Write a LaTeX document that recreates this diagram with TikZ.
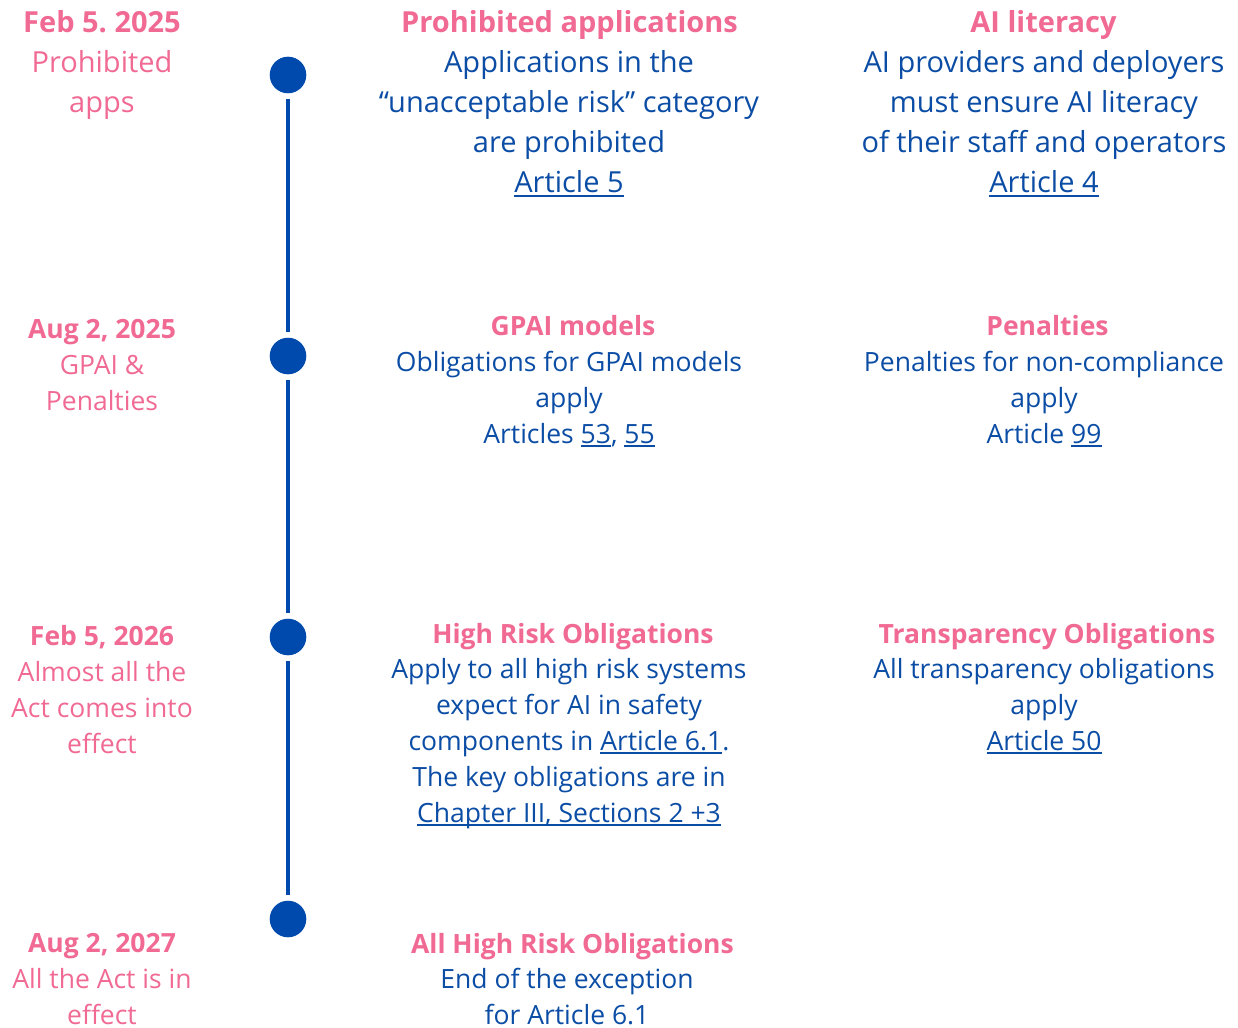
\documentclass[tikz,border=0pt]{standalone}
\usepackage{fontspec}
\setmainfont{Open Sans}
\frenchspacing
\definecolor{pinkt}{HTML}{F06A93}
\definecolor{bluet}{HTML}{0B4DA5}
\definecolor{dotblue}{HTML}{004AAD}
% underlined link text
\newcommand\lnk[1]{\setbox0\hbox{#1}\rlap{\rule[-4pt]{\wd0}{1.9pt}}\box0}
% multi-line nodes are placed by the baseline of their last line
\tikzset{
  lbl/.style={align=center, inner sep=0pt, anchor=base},
  rowone/.style={font=\fontsize{29}{40}\selectfont},
  rowrest/.style={font=\fontsize{26.5}{36}\selectfont},
  datetxt/.style={lbl, text=pinkt},
  headtxt/.style={lbl, text=pinkt},
  bodytxt/.style={lbl, text=bluet},
  milestone/.style={circle, fill=dotblue, minimum size=36.6pt, inner sep=0pt},
  rail/.style={draw=dotblue, line width=4.7pt, shorten <=5.5pt, shorten >=5.5pt}
}
\begin{document}
\begin{tikzpicture}[x=1pt,y=-1pt]
\useasboundingbox (0,0) rectangle (1238,1027);

% timeline
\node[milestone] (d1) at (288,75) {};
\node[milestone] (d2) at (288,356) {};
\node[milestone] (d3) at (288,637) {};
\node[milestone] (d4) at (288,919) {};
\draw[rail] (d1) -- (d2);
\draw[rail] (d2) -- (d3);
\draw[rail] (d3) -- (d4);

% dates
\node[datetxt, rowone] (t1) at (102,113) {\textbf{Feb 5. 2025}\\Prohibited\\apps};
\node[datetxt, rowrest] (t2) at (102,410) {\textbf{Aug 2, 2025}\\GPAI \&\\Penalties};
\node[datetxt, rowrest] (t3) at (102,753) {\textbf{Feb 5, 2026}\\Almost all the\\Act comes into\\effect};
\node[datetxt, rowrest] (t4) at (102,1024) {\textbf{Aug 2, 2027}\\All the Act is in\\effect};

% first row
\node[headtxt, rowone] (h11) at (569.5,33) {\textbf{Prohibited applications}};
\node[bodytxt, rowone] (b11) at (569,193) {Applications in the\\“unacceptable risk” category\\are prohibited\\\lnk{Article 5}};
\node[headtxt, rowone] (h12) at (1043.5,33) {\textbf{AI literacy}};
\node[bodytxt, rowone] (b12) at (1044,193) {AI providers and deployers\\must ensure AI literacy\\of their staff and operators\\\lnk{Article 4}};

% second row
\node[headtxt, rowrest] (h21) at (573,335) {\textbf{GPAI models}};
\node[bodytxt, rowrest] (b21) at (569,443) {Obligations for GPAI models\\apply\\Articles \lnk{53}, \lnk{55}};
\node[headtxt, rowrest] (h22) at (1047.5,335) {\textbf{Penalties}};
\node[bodytxt, rowrest] (b22) at (1044,443) {Penalties for non-compliance\\apply\\Article \lnk{99}};

% third row
\node[headtxt, rowrest] (h31) at (573,643) {\textbf{High Risk Obligations}};
\node[bodytxt, rowrest] (b31) at (569,822) {Apply to all high risk systems\\expect for AI in safety\\components in \lnk{Article 6.1}.\\The key obligations are in\\\lnk{Chapter III, Sections 2 +3}};
\node[headtxt, rowrest] (h32) at (1047,643) {\textbf{Transparency Obligations}};
\node[bodytxt, rowrest] (b32) at (1044,750) {All transparency obligations\\apply\\\lnk{Article 50}};

% fourth row
\node[headtxt, rowrest] (h41) at (572.5,953) {\textbf{All High Risk Obligations}};
\node[bodytxt, rowrest] (b41) at (567,1024) {End of the exception\\for Article 6.1};
\end{tikzpicture}
\end{document}
